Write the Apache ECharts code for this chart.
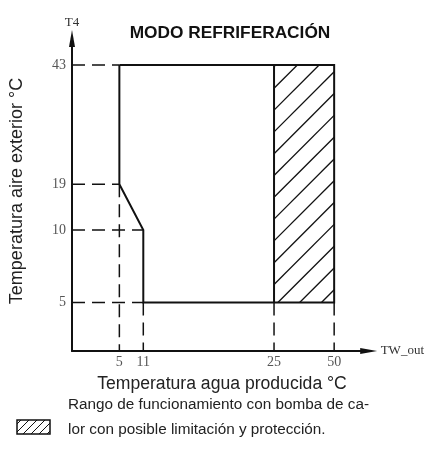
<!DOCTYPE html>
<html><head><meta charset="utf-8">
<script src="https://cdn.jsdelivr.net/npm/echarts@6/dist/echarts.min.js"></script>
<style>html,body{margin:0;padding:0;background:#fff}#c{width:427px;height:458px}</style>
</head><body><div id="c"></div>
<script>
// ---------- DATA ----------
const xTicks = [5, 11, 25, 50];          // TW_out (°C)
const yTicks = [5, 10, 19, 43];          // T4 (°C)
const envelope = [[5, 43], [50, 43], [50, 5], [11, 5], [11, 10], [5, 19], [5, 43]];
const limitedX = [25, 50];
const limitedY = [5, 43];
const hGuides = [[43, 5], [19, 5], [10, 11], [5, 11]];   // [T4, TW_out end]
const vGuides = [[5, 19], [11, 5], [25, 5], [50, 5]];    // [TW_out, T4 end]
const titleText = 'MODO REFRIFERACIÓN';
const xName = 'Temperatura agua producida °C';
const yName = 'Temperatura aire exterior °C';
const legendText = 'Rango de funcionamiento con bomba de ca-\nlor con posible limitación y protección.';

// ---------- LAYOUT (schematic, non-proportional axes) ----------
const xKnots = [[0, 0], [5, 48.3], [11, 72.7], [25, 206], [50, 267.3]];
const yKnots = [[0, 0], [5, 48.5], [10, 121], [19, 166.7], [43, 286]];
const GRID_L = 72, GRID_B = 458 - 351, GRID_T = 38.5, GRID_R = 427 - 374.5;
const X_LEN = 374.5 - 72, Y_LEN = 351 - 38.5;

function piece(knots, v) {
  for (let i = 1; i < knots.length; i++) {
    if (v <= knots[i][0] || i === knots.length - 1) {
      const [a0, p0] = knots[i - 1], [a1, p1] = knots[i];
      return p0 + (v - a0) * (p1 - p0) / (a1 - a0);
    }
  }
}
const sx = v => piece(xKnots, v);
const sy = v => piece(yKnots, v);
const pt = p => [sx(p[0]), sy(p[1])];
const xLabelMap = {}; xTicks.forEach(t => xLabelMap[sx(t).toFixed(2)] = t);
const yLabelMap = {}; yTicks.forEach(t => yLabelMap[sy(t).toFixed(2)] = t);

const INK = '#111';
const SANS = 'Liberation Sans, Arial, sans-serif';
const SERIF = 'Liberation Serif, serif';
const dash = [13, 7];
const series = [];

// hatched zone
series.push({
  type: 'custom', silent: true, z: 2,
  data: [[sx(limitedX[0]), sy(limitedY[1])]],
  renderItem: (params, api) => {
    const a = api.coord([sx(limitedX[0]), sy(limitedY[1])]);
    const b = api.coord([sx(limitedX[1]), sy(limitedY[0])]);
    const x0 = a[0], y0 = a[1], x1 = b[0], y1 = b[1];
    const step = 21.8, phase = 1.5, children = [];
    for (let c = x0 + y0 + phase; c < x1 + y1; c += step) {
      const xa = Math.max(x0, c - y1), ya = c - xa;
      const xb = Math.min(x1, c - y0), yb = c - xb;
      if (xb > xa + 0.5) children.push({type: 'line', shape: {x1: xa, y1: ya, x2: xb, y2: yb}, style: {stroke: INK, lineWidth: 1.3}});
    }
    return {type: 'group', children};
  }
});

// dashed guides
hGuides.forEach(([y, xe]) => series.push({
  type: 'line', silent: true, symbol: 'none', z: 3, animation: false,
  data: [pt([0, y]), pt([xe, y])],
  lineStyle: {color: INK, width: 1.5, type: dash}
}));
vGuides.forEach(([x, ye]) => series.push({
  type: 'line', silent: true, symbol: 'none', z: 3, animation: false,
  data: [pt([x, ye]), pt([x, 0])],
  lineStyle: {color: INK, width: 1.5, type: dash}
}));

// divider of the limited zone
series.push({
  type: 'line', silent: true, symbol: 'none', z: 4, animation: false,
  data: [pt([limitedX[0], limitedY[0]]), pt([limitedX[0], limitedY[1]])],
  lineStyle: {color: INK, width: 2}
});
// operating envelope
series.push({
  type: 'line', silent: true, symbol: 'none', z: 5, animation: false,
  data: envelope.map(pt),
  lineStyle: {color: INK, width: 2, join: 'miter'}
});

// legend swatch hatch lines
const sw = {x: 17, y: 420, w: 33, h: 14};
const swLines = [];
for (let c = sw.x + sw.y + 4; c < sw.x + sw.w + sw.y + sw.h; c += 8) {
  const xa = Math.max(sw.x, c - (sw.y + sw.h)), ya = c - xa;
  const xb = Math.min(sw.x + sw.w, c - sw.y), yb = c - xb;
  if (xb > xa + 0.5) swLines.push({type: 'line', shape: {x1: xa, y1: ya, x2: xb, y2: yb}, style: {stroke: INK, lineWidth: 1}});
}

const chart = echarts.init(document.getElementById('c'), null, {renderer: 'canvas'});
chart.setOption({
  animation: false,
  backgroundColor: '#fff',
  title: {
    text: titleText, left: 225, top: 20, textAlign: 'center',
    textStyle: {fontFamily: SANS, fontWeight: 'bold', fontSize: 17.3, color: INK}
  },
  grid: {left: GRID_L, right: GRID_R, top: GRID_T, bottom: GRID_B, containLabel: false},
  xAxis: {
    type: 'value', min: 0, max: X_LEN,
    name: 'TW_out', nameLocation: 'end', nameGap: 12,
    nameTextStyle: {fontFamily: SERIF, fontSize: 13, color: '#333', verticalAlign: 'middle'},
    axisLine: {show: true, onZero: false, symbol: ['none', 'triangle'], symbolSize: [6, 17], lineStyle: {color: INK, width: 2}},
    axisTick: {show: false},
    splitLine: {show: false},
    axisLabel: {
      customValues: xTicks.map(sx), margin: 4,
      fontFamily: SERIF, fontSize: 14, color: '#555',
      formatter: v => String(xLabelMap[Number(v).toFixed(2)] ?? '')
    }
  },
  yAxis: {
    type: 'value', min: 0, max: Y_LEN,
    name: 'T4', nameLocation: 'end', nameGap: 9,
    nameTextStyle: {fontFamily: SERIF, fontSize: 13, color: '#333', align: 'center'},
    axisLine: {show: true, onZero: false, symbol: ['none', 'triangle'], symbolSize: [6, 17], lineStyle: {color: INK, width: 2}},
    axisTick: {show: false},
    splitLine: {show: false},
    axisLabel: {
      customValues: yTicks.map(sy), margin: 6,
      fontFamily: SERIF, fontSize: 14, color: '#555',
      formatter: v => String(yLabelMap[Number(v).toFixed(2)] ?? '')
    }
  },
  graphic: [
    {type: 'text', x: 17, y: 191, rotation: Math.PI / 2,
     style: {text: yName, fontFamily: SANS, fontSize: 18, fill: '#222', align: 'center', verticalAlign: 'middle'}},
    {type: 'text', x: 222, y: 384,
     style: {text: xName, fontFamily: SANS, fontSize: 17.6, fill: '#222', align: 'center', verticalAlign: 'middle'}},
    {type: 'rect', shape: {x: sw.x, y: sw.y, width: sw.w, height: sw.h}, style: {fill: '#fff', stroke: INK, lineWidth: 1.5}},
    {type: 'group', children: swLines},
    {type: 'text', x: 68, y: 417.5,
     style: {text: legendText, fontFamily: SANS, fontSize: 15.3, lineHeight: 25, fill: '#222', align: 'left', verticalAlign: 'middle'}}
  ],
  series
});
</script></body></html>
